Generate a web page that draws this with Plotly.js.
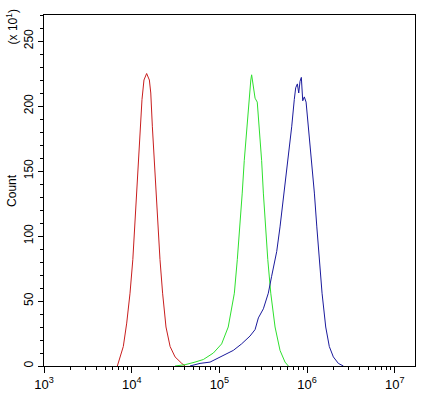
<!DOCTYPE html>
<html><head><meta charset="utf-8">
<script src="https://cdn.plot.ly/plotly-3.0.1.min.js"></script>
<style>html,body{margin:0;padding:0;background:#fff}#chart{width:432px;height:396px}</style>
</head><body><div id="chart"></div>
<script>
var redX = [6.86e3,7.36e3,8.02e3,8.77e3,9.57e3,1.03e4,1.09e4,1.14e4,1.20e4,1.24e4,1.31e4,1.38e4,1.48e4,1.59e4,1.65e4,1.72e4,1.81e4,1.89e4,2.01e4,2.10e4,2.25e4,2.46e4,2.74e4,3.12e4,3.72e4,4.06e4];
var redY = [0,6,15,33,56,82,112,133,158,184,205,220,225,220,210,184,158,133,107,82,56,30,15,7,2,0];

var greenX = [3.12e4,4.06e4,5.27e4,6.56e4,8.53e4,1.06e5,1.26e5,1.48e5,1.60e5,1.72e5,1.82e5,1.92e5,2.05e5,2.19e5,2.28e5,2.33e5,2.44e5,2.55e5,2.70e5,2.85e5,3.03e5,3.17e5,3.34e5,3.56e5,3.85e5,4.31e5,4.91e5,5.60e5,6.11e5];
var greenY = [0,1,3,5,10,17,30,56,82,107,133,158,184,207,220,224,215,206,203,184,158,133,107,82,56,30,12,3,0];

var blueX = [4.62e4,6.01e4,7.82e4,1.02e5,1.44e5,1.79e5,2.23e5,2.55e5,2.78e5,3.17e5,3.61e5,3.94e5,4.50e5,4.91e5,5.46e5,5.96e5,6.67e5,7.14e5,7.41e5,7.74e5,8.02e5,8.30e5,8.59e5,8.91e5,9.29e5,9.73e5,1.03e6,1.13e6,1.21e6,1.29e6,1.37e6,1.48e6,1.63e6,1.79e6,1.99e6,2.27e6,2.59e6];
var blueY = [0,2,3,7,12,17,23,28,37,44,56,69,88,107,133,158,184,205,214,217,210,219,222,204,207,203,184,158,133,107,82,56,30,15,7,2,0];

var xTickVals = [1e3,1e4,1e5,1e6,1e7];
var xTickText = ['10<sup>3</sup>','10<sup>4</sup>','10<sup>5</sup>','10<sup>6</sup>','10<sup>7</sup>'];
var yTickVals = [0,50,100,150,200,250];

var traces = [
  {x: redX, y: redY, type:'scatter', mode:'lines', line:{color:'#c81e1e', width:1}},
  {x: greenX, y: greenY, type:'scatter', mode:'lines', line:{color:'#2ee02e', width:1}},
  {x: blueX, y: blueY, type:'scatter', mode:'lines', line:{color:'#1a1a9c', width:1}}
];

var fam = 'Liberation Sans, Arial, sans-serif';
var layout = {
  width:432, height:396,
  margin:{l:44, r:17, t:15, b:30, pad:0},
  paper_bgcolor:'#fff', plot_bgcolor:'#fff',
  showlegend:false,
  font:{family:fam, size:12, color:'#000'},
  xaxis:{
    type:'log', range:[3, 7.23], tickvals:xTickVals, ticktext:xTickText,
    ticks:'outside', ticklen:6, tickwidth:1, tickcolor:'#000',
    showline:true, linecolor:'#000', linewidth:1, mirror:true,
    showgrid:false, zeroline:false,
    tickfont:{family:fam, size:13, color:'#000'},
    minor:{ticks:'outside', ticklen:3, tickcolor:'#000', dtick:'D1', showgrid:false}
  },
  yaxis:{
    range:[0,270], tickvals:yTickVals, tickangle:-90,
    ticks:'outside', ticklen:5, tickwidth:1, tickcolor:'#000',
    showline:true, linecolor:'#000', linewidth:1, mirror:true,
    showgrid:false, zeroline:false,
    tickfont:{family:fam, size:12, color:'#000'},
    minor:{ticks:'outside', ticklen:3, tickcolor:'#000', dtick:10, showgrid:false}
  },
  annotations:[{
    text:'(x 10<sup>1</sup>)', xref:'paper', yref:'paper', x:-0.086, y:0.965,
    xanchor:'center', yanchor:'middle', textangle:-90, showarrow:false,
    font:{family:fam, size:12, color:'#000'}
  },{
    text:'Count', xref:'paper', yref:'paper', x:-0.086, y:0.499,
    xanchor:'center', yanchor:'middle', textangle:-90, showarrow:false,
    font:{family:fam, size:12, color:'#000'}
  }]
};
Plotly.newPlot('chart', traces, layout, {staticPlot:true, displayModeBar:false});
</script>
</body></html>
